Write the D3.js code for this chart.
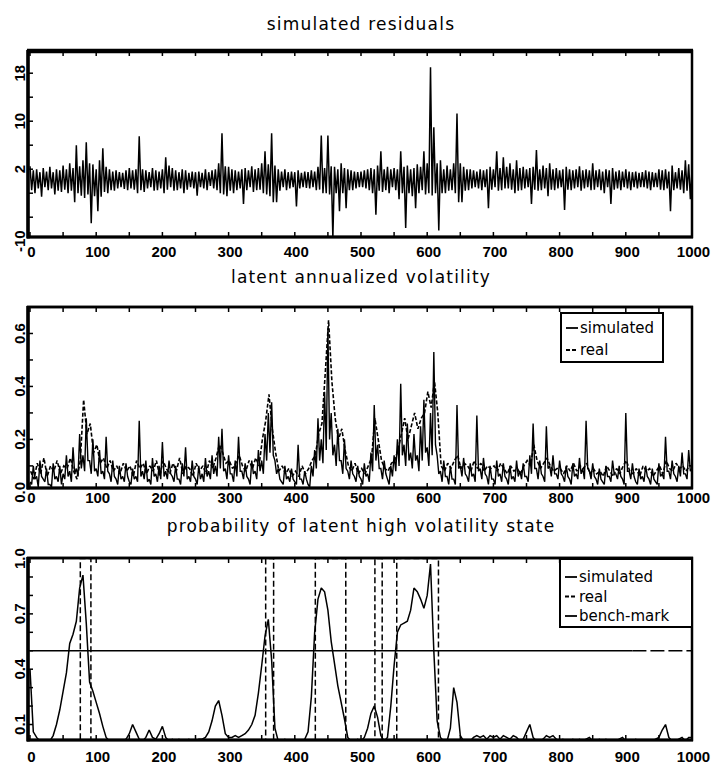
<!DOCTYPE html>
<html><head><meta charset="utf-8">
<script src="https://cdn.jsdelivr.net/npm/d3@7"></script>
<style>body{margin:0;background:#fff}svg{display:block}</style>
</head><body>
<svg id="chart" width="713" height="768"></svg>
<script>
// ---------------- data ----------------
const titles = ["simulated residuals", "latent annualized volatility", "probability of latent high volatility state"];
const xTickValues = [0,100,200,300,400,500,600,700,800,900,1000];
const xTickLabels = ["0","100","200","300","400","500","600","700","800","900","1000"];
const sampleStep = 5; // one reading per 5 time steps, t = 0..1000

// residuals: highest and lowest reading inside each 5-step window
const residHigh = [
 2.5,1.8,2.0,1.5,2.2,1.6,2.4,1.5,2.0,1.8,
 2.6,2.0,3.0,2.2,6.0,2.5,3.5,6.5,3.0,2.8,
 2.0,3.5,5.5,2.4,2.0,1.6,1.8,1.5,1.4,1.8,
 2.2,1.8,2.0,7.5,2.0,1.8,1.5,2.2,1.8,1.6,
 2.0,4.0,2.6,2.2,1.8,1.5,2.0,1.8,1.4,1.6,
 1.5,1.6,1.4,2.0,1.5,1.8,2.0,3.0,8.0,2.5,
 2.4,2.0,1.8,1.6,2.0,2.2,1.8,2.5,2.0,2.2,
 3.0,5.0,2.8,8.0,2.6,2.0,1.6,2.0,1.5,1.6,
 1.5,1.8,1.4,1.6,1.5,1.8,1.6,2.4,7.6,2.2,
 7.6,2.5,2.4,2.0,3.0,2.2,2.0,1.8,1.6,1.5,
 1.6,1.8,2.0,2.2,2.0,2.6,5.0,2.0,2.4,2.0,
 2.2,2.0,5.0,2.4,2.6,2.0,2.2,2.8,2.4,5.0,
 3.0,19.0,9.0,3.0,3.5,2.0,2.6,2.0,3.0,11.3,
 3.0,2.4,2.0,2.0,1.8,1.6,2.0,1.8,2.0,2.4,
 2.0,5.0,2.2,4.0,2.4,3.0,2.0,3.5,2.2,2.4,
 2.0,2.2,2.4,5.2,2.0,2.6,2.2,3.0,2.0,2.2,
 1.8,2.0,2.4,2.0,1.8,2.0,2.5,1.8,2.0,1.8,
 3.0,1.8,2.0,1.6,2.0,1.8,2.2,1.6,1.8,1.6,
 2.0,1.6,1.5,1.6,1.4,1.5,1.8,1.6,1.5,1.4,
 2.0,1.8,2.0,1.6,2.6,1.5,2.2,1.8,3.5,2.8,
 2.0];
const residLow = [
 -1.5,-2.0,-1.2,-2.6,-1.0,-1.5,-1.2,-2.2,-1.6,-1.8,
 -1.4,-2.0,-1.6,-3.5,-2.0,-2.4,-2.8,-2.2,-7.0,-2.5,
 -5.0,-2.6,-1.8,-2.0,-1.5,-1.6,-1.2,-1.0,-1.3,-1.5,
 -1.2,-1.4,-2.0,-1.5,-1.8,-1.2,-1.0,-1.6,-1.5,-1.2,
 -2.0,-1.4,-1.0,-1.6,-1.5,-1.2,-2.0,-1.4,-1.0,-1.2,
 -2.4,-1.0,-1.2,-1.5,-0.8,-1.2,-1.5,-2.0,-2.2,-2.5,
 -1.6,-2.0,-1.5,-1.2,-3.8,-1.5,-1.0,-1.8,-1.5,-1.4,
 -2.0,-2.2,-2.5,-3.5,-3.5,-1.6,-1.0,-1.5,-1.2,-1.0,
 -4.2,-1.2,-1.0,-1.1,-1.2,-1.0,-1.5,-1.4,-2.0,-2.0,
 -2.2,-9.5,-2.0,-5.0,-2.0,-4.5,-1.5,-1.5,-1.2,-1.0,
 -1.0,-1.2,-1.5,-2.0,-5.6,-1.6,-1.8,-1.5,-2.0,-1.0,
 -1.5,-3.0,-2.0,-7.8,-2.0,-2.5,-4.5,-2.0,-1.5,-2.2,
 -2.0,-2.4,-2.0,-8.2,-2.0,-2.0,-1.6,-1.5,-2.0,-3.5,
 -3.5,-1.6,-1.5,-1.2,-1.0,-1.2,-1.5,-1.0,-4.5,-1.4,
 -1.0,-1.6,-1.5,-1.2,-1.2,-1.4,-2.0,-1.6,-1.5,-1.2,
 -1.0,-3.8,-1.4,-1.6,-1.5,-1.2,-2.5,-1.4,-1.5,-1.2,
 -1.0,-4.8,-1.4,-1.5,-1.2,-1.0,-1.6,-1.2,-1.0,-1.5,
 -1.4,-1.0,-1.5,-2.0,-1.0,-3.8,-1.4,-1.2,-1.5,-1.0,
 -1.2,-1.5,-1.0,-1.2,-1.0,-1.0,-1.2,-1.5,-1.0,-1.0,
 -1.4,-1.5,-1.2,-5.0,-1.5,-1.2,-1.4,-2.0,-1.6,-3.0,
 -1.5];
const residTickMarks = [-6,-2,2,6,10,14,18];
const residTickLabels = [-10,2,10,18];

// simulated volatility: highest and lowest reading inside each 5-step window
const volSimHigh = [
 0.04,0.10,0.06,0.12,0.05,0.09,0.03,0.11,0.06,0.10,
 0.07,0.14,0.08,0.17,0.09,0.22,0.14,0.28,0.12,0.20,
 0.09,0.16,0.08,0.21,0.07,0.12,0.05,0.10,0.06,0.11,
 0.04,0.09,0.06,0.27,0.08,0.12,0.05,0.13,0.07,0.10,
 0.19,0.08,0.12,0.06,0.10,0.05,0.11,0.17,0.06,0.12,
 0.05,0.10,0.07,0.13,0.08,0.14,0.10,0.21,0.24,0.09,
 0.14,0.07,0.12,0.21,0.08,0.11,0.05,0.12,0.08,0.16,
 0.12,0.22,0.30,0.34,0.12,0.09,0.04,0.10,0.06,0.09,
 0.04,0.18,0.05,0.08,0.03,0.10,0.16,0.28,0.20,0.38,
 0.62,0.30,0.18,0.24,0.12,0.20,0.08,0.12,0.06,0.10,
 0.05,0.11,0.07,0.15,0.33,0.18,0.09,0.12,0.05,0.10,
 0.14,0.20,0.41,0.18,0.26,0.15,0.22,0.14,0.25,0.35,
 0.17,0.30,0.53,0.14,0.08,0.12,0.06,0.10,0.05,0.33,
 0.10,0.13,0.06,0.11,0.07,0.29,0.09,0.13,0.06,0.10,
 0.05,0.12,0.07,0.11,0.05,0.10,0.06,0.12,0.08,0.11,
 0.06,0.14,0.26,0.09,0.12,0.06,0.25,0.10,0.14,0.07,
 0.12,0.06,0.10,0.05,0.11,0.07,0.13,0.09,0.27,0.08,
 0.11,0.05,0.09,0.04,0.10,0.06,0.12,0.07,0.10,0.05,
 0.30,0.08,0.11,0.04,0.09,0.06,0.10,0.05,0.09,0.04,
 0.11,0.07,0.21,0.08,0.12,0.06,0.10,0.15,0.07,0.16,
 0.09];
const volSimLow = [
 0.03,0.05,0.02,0.06,0.04,0.03,0.02,0.05,0.04,0.03,
 0.05,0.06,0.04,0.07,0.06,0.09,0.08,0.12,0.07,0.08,
 0.06,0.07,0.05,0.08,0.04,0.06,0.03,0.05,0.04,0.06,
 0.03,0.05,0.04,0.06,0.05,0.04,0.03,0.06,0.04,0.05,
 0.06,0.05,0.07,0.04,0.05,0.03,0.06,0.05,0.04,0.06,
 0.03,0.05,0.04,0.06,0.05,0.07,0.06,0.09,0.08,0.05,
 0.07,0.04,0.06,0.08,0.05,0.06,0.03,0.07,0.05,0.08,
 0.07,0.12,0.15,0.14,0.07,0.05,0.03,0.05,0.04,0.05,
 0.03,0.05,0.03,0.05,0.02,0.06,0.09,0.12,0.11,0.16,
 0.20,0.14,0.10,0.12,0.07,0.09,0.05,0.07,0.04,0.06,
 0.03,0.06,0.04,0.08,0.12,0.09,0.05,0.07,0.03,0.06,
 0.08,0.10,0.14,0.10,0.12,0.09,0.12,0.08,0.12,0.15,
 0.10,0.14,0.18,0.07,0.04,0.06,0.03,0.05,0.03,0.09,
 0.06,0.07,0.04,0.06,0.04,0.08,0.05,0.07,0.03,0.05,
 0.03,0.06,0.04,0.06,0.03,0.05,0.04,0.06,0.05,0.06,
 0.04,0.07,0.09,0.05,0.07,0.04,0.09,0.06,0.07,0.05,
 0.07,0.04,0.06,0.03,0.06,0.05,0.07,0.05,0.09,0.05,
 0.06,0.03,0.05,0.03,0.06,0.04,0.07,0.05,0.06,0.03,
 0.08,0.05,0.06,0.03,0.05,0.04,0.06,0.03,0.05,0.03,
 0.06,0.05,0.08,0.05,0.07,0.04,0.06,0.07,0.05,0.08,
 0.05];
const volReal = [
 0.08,0.05,0.11,0.07,0.13,0.06,0.10,0.08,0.12,0.07,
 0.10,0.09,0.13,0.08,0.05,0.12,0.35,0.22,0.26,0.15,
 0.18,0.11,0.13,0.09,0.12,0.08,0.10,0.07,0.11,0.08,
 0.10,0.06,0.12,0.09,0.11,0.07,0.10,0.08,0.12,0.06,
 0.12,0.09,0.07,0.11,0.08,0.13,0.07,0.10,0.09,0.06,
 0.11,0.08,0.10,0.07,0.12,0.09,0.13,0.18,0.15,0.11,
 0.12,0.09,0.11,0.14,0.10,0.08,0.12,0.09,0.13,0.10,
 0.20,0.27,0.37,0.24,0.15,0.08,0.10,0.07,0.09,0.06,
 0.08,0.06,0.10,0.07,0.09,0.12,0.14,0.22,0.26,0.45,
 0.65,0.42,0.28,0.20,0.24,0.16,0.10,0.08,0.11,0.07,
 0.09,0.07,0.10,0.13,0.28,0.20,0.12,0.09,0.08,0.11,
 0.12,0.16,0.22,0.28,0.20,0.25,0.30,0.24,0.28,0.30,
 0.38,0.32,0.42,0.30,0.10,0.08,0.11,0.09,0.12,0.14,
 0.09,0.11,0.10,0.08,0.12,0.09,0.11,0.08,0.10,0.09,
 0.10,0.08,0.11,0.09,0.07,0.10,0.08,0.09,0.07,0.10,
 0.12,0.10,0.18,0.12,0.09,0.11,0.13,0.10,0.08,0.09,
 0.09,0.07,0.10,0.08,0.11,0.08,0.10,0.09,0.11,0.07,
 0.09,0.07,0.08,0.06,0.10,0.08,0.06,0.09,0.07,0.10,
 0.12,0.08,0.07,0.09,0.06,0.10,0.08,0.09,0.06,0.08,
 0.10,0.07,0.12,0.09,0.08,0.11,0.09,0.10,0.08,0.10,
 0.10];
const volTickMarks = [0.1,0.2,0.3,0.4,0.5,0.6];
const volTickLabels = [0.0,0.2,0.4,0.6];
const volLegend = ["simulated","real"];

const probSimulated = [
 0.40,0.06,0.03,0.01,0.01,0.01,0.01,0.04,0.10,0.18,
 0.28,0.38,0.54,0.59,0.66,0.84,0.91,0.65,0.33,0.28,
 0.22,0.16,0.09,0.03,0.01,0.01,0.01,0.01,0.01,0.02,
 0.05,0.10,0.06,0.02,0.01,0.03,0.07,0.03,0.02,0.05,
 0.09,0.03,0.01,0.02,0.01,0.02,0.01,0.01,0.02,0.01,
 0.01,0.02,0.02,0.03,0.06,0.12,0.20,0.23,0.15,0.05,
 0.03,0.03,0.04,0.03,0.04,0.05,0.07,0.10,0.15,0.27,
 0.42,0.58,0.67,0.45,0.08,0.01,0.01,0.02,0.01,0.01,
 0.02,0.01,0.01,0.02,0.06,0.25,0.60,0.78,0.84,0.82,
 0.72,0.55,0.43,0.31,0.22,0.13,0.03,0.01,0.01,0.02,
 0.01,0.03,0.08,0.16,0.20,0.14,0.04,0.01,0.03,0.20,
 0.42,0.60,0.64,0.65,0.66,0.72,0.84,0.82,0.78,0.73,
 0.80,0.97,0.50,0.12,0.03,0.01,0.01,0.08,0.30,0.22,
 0.04,0.01,0.01,0.01,0.03,0.04,0.03,0.04,0.02,0.04,
 0.03,0.04,0.02,0.04,0.03,0.02,0.04,0.03,0.01,0.02,
 0.06,0.10,0.03,0.01,0.01,0.02,0.04,0.03,0.04,0.02,
 0.01,0.02,0.01,0.01,0.02,0.01,0.02,0.01,0.02,0.03,
 0.01,0.01,0.02,0.01,0.02,0.01,0.01,0.01,0.02,0.03,
 0.01,0.01,0.01,0.02,0.01,0.01,0.01,0.01,0.01,0.02,
 0.03,0.07,0.10,0.03,0.01,0.01,0.02,0.03,0.01,0.03,
 0.03];
// real latent state: 0 at t=0, flips at each of these times
const realStateSwitches = [76,92,356,368,431,477,521,532,554,617];
const benchMark = 0.5;
const benchDashFrom = 910;
const probTickMarks = [0.1,0.2,0.3,0.4,0.5,0.6,0.7,0.8,0.9];
const probTickLabels = [0.1,0.4,0.7,1.0];
const probLegend = ["simulated","real","bench-mark"];

// ---------------- drawing ----------------
const svg = d3.select("#chart");
svg.append("rect").attr("width",713).attr("height",768).attr("fill","#fff");

const LEFT = 28, RIGHT = 692;
const x = d3.scaleLinear().domain([0,1000]).range([30, 692]);
const tOf = i => i * sampleStep;
const FONT = "'DejaVu Sans', sans-serif";
const TICKFONT = "'Liberation Sans', Arial, sans-serif";

const panels = [
  {top:51,  bottom:237, dom:[-9.3,21.7], title:titles[0], titleY:30, labY:257,
   marks:residTickMarks, labs:residTickLabels, fmt:d=>String(d), topW:4.5},
  {top:307, bottom:488, dom:[0.0165,0.70], title:titles[1], titleY:283, labY:503,
   marks:volTickMarks, labs:volTickLabels, fmt:d3.format(".1f"), topW:2.5},
  {top:558, bottom:740, dom:[0.016,1.003], title:titles[2], titleY:532, labY:762,
   marks:probTickMarks, labs:probTickLabels, fmt:d3.format(".1f"), topW:2.5}
];

panels.forEach((p,k) => {
  p.y = d3.scaleLinear().domain(p.dom).range([p.bottom, p.top]);
  const g = svg.append("g");
  p.g = g;
  svg.append("clipPath").attr("id","clip"+k).append("rect")
    .attr("x",LEFT).attr("y",p.top).attr("width",RIGHT-LEFT).attr("height",p.bottom-p.top);
  p.plot = g.append("g").attr("clip-path",`url(#clip${k})`);

  g.append("text").attr("x",(LEFT+RIGHT)/2 + 1).attr("y",p.titleY)
    .attr("text-anchor","middle").attr("font-family",FONT).attr("font-size",17)
    .attr("letter-spacing","1.2px").attr("fill","#000").text(p.title);

  const xt = d3.range(0,1001,50);
  g.selectAll(null).data(xt).enter().append("line")
    .attr("x1",d=>x(d)).attr("x2",d=>x(d)).attr("y1",p.bottom).attr("y2",p.bottom-5)
    .attr("stroke","#000").attr("stroke-width",1.5);
  g.selectAll(null).data(xt).enter().append("line")
    .attr("x1",d=>x(d)).attr("x2",d=>x(d)).attr("y1",p.top).attr("y2",p.top+5)
    .attr("stroke","#000").attr("stroke-width",1.5);
  g.selectAll(null).data(xTickValues).enter().append("text")
    .attr("x",(d)=>x(d)+1.5).attr("y",p.labY).attr("text-anchor","middle")
    .attr("font-family",TICKFONT).attr("font-weight","bold").attr("font-size",15).attr("fill","#000")
    .text((d,i)=>xTickLabels[i]);

  g.selectAll(null).data(p.marks).enter().append("line")
    .attr("x1",LEFT).attr("x2",LEFT+5).attr("y1",d=>p.y(d)).attr("y2",d=>p.y(d))
    .attr("stroke","#000").attr("stroke-width",1.5);
  g.selectAll(null).data(p.labs).enter().append("text")
    .attr("transform",d=>`translate(25,${p.y(d)}) rotate(-90)`)
    .attr("text-anchor","middle").attr("font-family",TICKFONT).attr("font-weight","bold")
    .attr("font-size",15).attr("fill","#000").text(p.fmt);
});

const lineStyle = (sel, w, dash) => sel.attr("fill","none").attr("stroke","#000")
  .attr("stroke-width",w).attr("stroke-linejoin","miter").attr("stroke-miterlimit",2)
  .attr("stroke-dasharray",dash||null);

// high/low readings of each window -> zig-zag trace through the window
function hiLoPoints(hi, lo) {
  const pts = [];
  hi.forEach((h,i) => { pts.push([tOf(i), h]); pts.push([tOf(i) + sampleStep/2, lo[i]]); });
  return pts;
}

// panel 1: residuals
{
  const p = panels[0];
  const ln = d3.line().x(d=>x(d[0])).y(d=>p.y(d[1]));
  lineStyle(p.plot.append("path").datum(hiLoPoints(residHigh, residLow)).attr("d",ln), 1.5);
}
// panel 2: volatility
{
  const p = panels[1];
  const lnI = d3.line().x((d,i)=>x(tOf(i) + 1)).y(d=>p.y(d));
  const ln = d3.line().x(d=>x(d[0])).y(d=>p.y(d[1]));
  lineStyle(p.plot.append("path").datum(volReal).attr("d",lnI), 1.6, "4,2");
  lineStyle(p.plot.append("path").datum(hiLoPoints(volSimHigh, volSimLow)).attr("d",ln), 1.4);
}
// panel 3: probability
{
  const p = panels[2];
  const ln = d3.line().x((d,i)=>x(tOf(i))).y(d=>p.y(d));
  const pts = [[0,0]];
  let s = 0;
  realStateSwitches.forEach(t => { pts.push([t,s]); s = 1 - s; pts.push([t,s]); });
  pts.push([1000,s]);
  lineStyle(p.plot.append("path").datum(pts)
    .attr("d",d3.line().x(d=>x(d[0])).y(d=>p.y(d[1]))), 1.5, "6,3");
  lineStyle(p.plot.append("path").datum(probSimulated).attr("d",ln), 1.5);
  lineStyle(p.plot.append("line").attr("x1",x(0)).attr("x2",x(benchDashFrom))
    .attr("y1",p.y(benchMark)).attr("y2",p.y(benchMark)), 1.6);
  lineStyle(p.plot.append("line").attr("x1",x(benchDashFrom)).attr("x2",x(1000))
    .attr("y1",p.y(benchMark)).attr("y2",p.y(benchMark)), 1.6, "14,4");
}

// frames
panels.forEach(p => {
  const g = p.g;
  g.append("rect").attr("x",LEFT).attr("y",p.top).attr("width",RIGHT-LEFT).attr("height",p.bottom-p.top)
    .attr("fill","none").attr("stroke","#000").attr("stroke-width",2.5);
  g.append("line").attr("x1",LEFT).attr("x2",LEFT).attr("y1",p.top-1).attr("y2",p.bottom+1.5)
    .attr("stroke","#000").attr("stroke-width",3.5);
  g.append("line").attr("x1",LEFT-1).attr("x2",RIGHT+1).attr("y1",p.top).attr("y2",p.top)
    .attr("stroke","#000").attr("stroke-width",p.topW);
  g.append("line").attr("x1",LEFT-1).attr("x2",RIGHT+1).attr("y1",p.bottom).attr("y2",p.bottom)
    .attr("stroke","#000").attr("stroke-width",3);
});

// legends
function legend(p, box, items, styles) {
  const g = p.g.append("g");
  g.append("rect").attr("x",box.x).attr("y",box.y).attr("width",box.w).attr("height",box.h)
    .attr("fill","#fff").attr("stroke","#000").attr("stroke-width",2);
  items.forEach((name,i) => {
    const cy = box.y + box.first + i*box.gap;
    g.append("line").attr("x1",box.x+5).attr("x2",box.x+17).attr("y1",cy).attr("y2",cy)
      .attr("stroke","#000").attr("stroke-width",1.8).attr("stroke-dasharray",styles[i]||null);
    g.append("text").attr("x",box.x+19).attr("y",cy+5).attr("font-family",FONT)
      .attr("font-size",15).attr("fill","#000").text(name);
  });
}
legend(panels[1], {x:561,y:313,w:102,h:49,first:15,gap:22}, volLegend, [null,"4,2"]);
legend(panels[2], {x:560,y:559,w:132,h:68,first:18,gap:19.5}, probLegend, [null,"4,2",null]);
</script>
</body></html>
